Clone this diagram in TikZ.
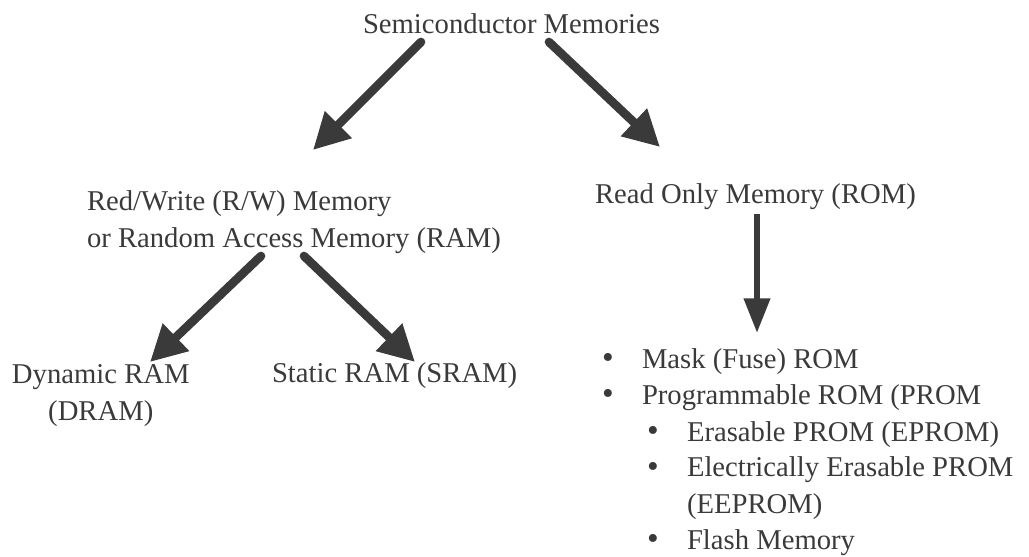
\documentclass[tikz,border=0pt]{standalone}
\usepackage{fontspec}
\setmainfont{Liberation Serif}
\usepackage{xcolor}
\usepackage{tikz}
\usetikzlibrary{arrows.meta,calc}

\definecolor{ink}{HTML}{3A3A3A}

\begin{document}
\begin{tikzpicture}[
  x=0.75pt,y=-0.75pt,
  every node/.style={inner sep=0pt,outer sep=0pt,text=ink},
  lbl/.style={anchor=base west,font=\fontsize{21.5}{27.75}\selectfont},
  dot/.style={anchor=base west,font=\fontsize{25}{27.75}\selectfont},
  arr/.style={-{Triangle[length=27pt,width=27pt]},line width=6.5pt,line cap=round,ink},
  varr/.style={-{Triangle[length=26pt,width=19pt]},line width=4.5pt,ink}
]
\useasboundingbox (0,0) rectangle (1029,557);

\node[lbl] (semi) at (363,33) {Semiconductor Memories};
\node[lbl,align=left] (ram) at (87,247)
  {Red/Write (R/W) Memory\\or Random Access Memory (RAM)};
\node[lbl] (rom) at (595,203) {Read Only Memory (ROM)};
\node[lbl,align=center] (dram) at (12,420) {Dynamic RAM\\(DRAM)};
\node[lbl] (sram) at (272,382) {Static RAM (SRAM)};

% ROM types
\node[lbl] (mask)  at (642,368) {Mask (Fuse) ROM};
\node[lbl] (prom)  at (642,404) {Programmable ROM (PROM};
\node[lbl] (eprom) at (687,441) {Erasable PROM (EPROM)};
\node[lbl,align=left] (eeprom) at (687,513) {Electrically Erasable PROM\\(EEPROM)};
\node[lbl] (flash) at (687,549) {Flash Memory};
\foreach \x/\y in {602/368,602/404,647/441,647/477,647/549}
  \node[dot] at (\x,\y) {\textbullet};

\draw[arr] ($(semi.base west)+(58,9)$) -- ($(ram.base west)+(226,-97)$);
\draw[arr] ($(semi.base west)+(186,9)$) -- ($(rom.base west)+(65,-56)$);
\draw[arr] ($(ram.base west)+(174,9)$) -- ($(dram.base west)+(138,-58)$);
\draw[arr] ($(ram.base west)+(217,9)$) -- ($(sram.base west)+(143,-20)$);
\draw[varr] ($(rom.base west)+(162,11)$) -- ($(mask.base west)+(115,-35)$);
\end{tikzpicture}
\end{document}
